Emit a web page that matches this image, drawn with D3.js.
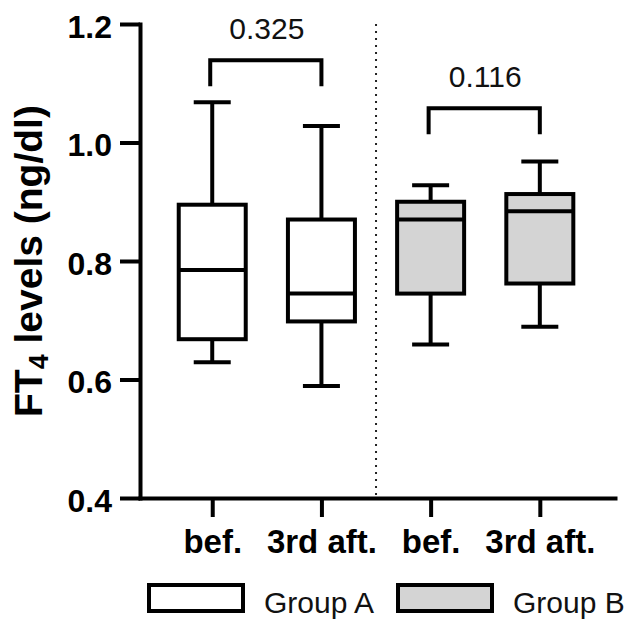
<!DOCTYPE html>
<html>
<head>
<meta charset="utf-8">
<script src="https://cdn.jsdelivr.net/npm/d3@7"></script>
<style>
  html, body { margin: 0; padding: 0; background: #fff; }
  svg { display: block; }
  text { font-family: Arial, "Liberation Sans", Helvetica, sans-serif; }
</style>
</head>
<body>
<svg id="chart" width="631" height="620"></svg>
<script>
// ---- data ----
const categories = ["A-bef", "A-aft", "B-bef", "B-aft"];
const categoryLabels = ["bef.", "3rd aft.", "bef.", "3rd aft."];
const groups = ["Group A", "Group A", "Group B", "Group B"];
const whiskerLow  = [0.629, 0.589, 0.659, 0.689];
const q1          = [0.668, 0.698, 0.745, 0.762];
const median      = [0.785, 0.745, 0.870, 0.884];
const q3          = [0.895, 0.870, 0.900, 0.913];
const whiskerHigh = [1.068, 1.028, 0.928, 0.968];
const yTicks = [0.4, 0.6, 0.8, 1.0, 1.2];
const legendItems = ["Group A", "Group B"];
const comparisons = [
  { from: "A-bef", to: "A-aft", level: 1.139, label: "0.325" },
  { from: "B-bef", to: "B-aft", level: 1.058, label: "0.116" }
];
const dividerBetween = ["A-aft", "B-bef"];

// ---- styles ----
const fillFor = { "Group A": "#ffffff", "Group B": "#d4d4d4" };
const ink = "#000";
const SW = 4;

const svg = d3.select("#chart");

const y = d3.scaleLinear().domain([0.4, 1.2]).range([498, 24]);
const x = d3.scalePoint().domain(categories).range([140, 615]).padding(0.675).align(0.49);

// divider (dotted)
const divX = (x(dividerBetween[0]) + x(dividerBetween[1])) / 2;
svg.append("line")
  .attr("x1", divX).attr("x2", divX)
  .attr("y1", y(1.2)).attr("y2", y(0.4))
  .attr("stroke", "#222").attr("stroke-width", 2)
  .attr("stroke-dasharray", "2,5");

// y axis
const yAxis = svg.append("g").attr("transform", "translate(140,0)")
  .call(d3.axisLeft(y).tickValues(yTicks).tickFormat(d3.format(".1f"))
    .tickSize(20).tickSizeOuter(0).tickPadding(8));
yAxis.select(".domain").attr("stroke", ink).attr("stroke-width", SW).attr("stroke-linecap", "square");
yAxis.selectAll(".tick line").attr("stroke", ink).attr("stroke-width", SW);
yAxis.selectAll(".tick text")
  .attr("font-size", 32).attr("font-weight", "bold").attr("fill", ink)
  .attr("dy", "0.42em");

// x axis
const xAxis = svg.append("g").attr("transform", "translate(0,498)")
  .call(d3.axisBottom(x).tickSize(19).tickSizeOuter(0).tickPadding(13)
    .tickFormat((d, i) => categoryLabels[i]));
xAxis.select(".domain").attr("stroke", ink).attr("stroke-width", SW).attr("stroke-linecap", "square");
xAxis.selectAll(".tick line").attr("stroke", ink).attr("stroke-width", SW);
xAxis.selectAll(".tick text")
  .attr("font-size", 33).attr("font-weight", "bold").attr("fill", ink);

// y title
svg.append("text")
  .attr("transform", "translate(42,417) rotate(-90)")
  .attr("text-anchor", "start")
  .attr("font-size", 39).attr("font-weight", "bold").attr("fill", ink)
  .call(t => {
    t.append("tspan").text("FT");
    t.append("tspan").text("4").attr("font-size", 27).attr("dy", 6);
    t.append("tspan").text(" levels (ng/dl)").attr("dy", -6);
  });

// boxes
const boxW = 67, capW = 37;
const data = categories.map((c, i) => ({
  c, g: groups[i], lo: whiskerLow[i], q1: q1[i], med: median[i], q3: q3[i], hi: whiskerHigh[i]
}));
const box = svg.append("g").selectAll("g").data(data).join("g");
box.append("line").attr("x1", d => x(d.c)).attr("x2", d => x(d.c))
  .attr("y1", d => y(d.hi)).attr("y2", d => y(d.q3))
  .attr("stroke", ink).attr("stroke-width", SW);
box.append("line").attr("x1", d => x(d.c)).attr("x2", d => x(d.c))
  .attr("y1", d => y(d.q1)).attr("y2", d => y(d.lo))
  .attr("stroke", ink).attr("stroke-width", SW);
box.append("line").attr("x1", d => x(d.c) - capW / 2).attr("x2", d => x(d.c) + capW / 2)
  .attr("y1", d => y(d.hi)).attr("y2", d => y(d.hi))
  .attr("stroke", ink).attr("stroke-width", SW);
box.append("line").attr("x1", d => x(d.c) - capW / 2).attr("x2", d => x(d.c) + capW / 2)
  .attr("y1", d => y(d.lo)).attr("y2", d => y(d.lo))
  .attr("stroke", ink).attr("stroke-width", SW);
box.append("rect")
  .attr("x", d => x(d.c) - boxW / 2).attr("width", boxW)
  .attr("y", d => y(d.q3)).attr("height", d => y(d.q1) - y(d.q3))
  .attr("fill", d => fillFor[d.g]).attr("stroke", ink).attr("stroke-width", SW);
box.append("line").attr("x1", d => x(d.c) - boxW / 2).attr("x2", d => x(d.c) + boxW / 2)
  .attr("y1", d => y(d.med)).attr("y2", d => y(d.med))
  .attr("stroke", ink).attr("stroke-width", SW);

// comparison brackets
const drop = 0.044;
const br = svg.append("g").selectAll("g").data(comparisons).join("g");
br.append("path")
  .attr("d", d => {
    const x1 = x(d.from) - 2, x2 = x(d.to), yt = y(d.level), yb = y(d.level - drop);
    return `M${x1},${yb}V${yt}H${x2}V${yb}`;
  })
  .attr("fill", "none").attr("stroke", ink).attr("stroke-width", SW);
br.append("text")
  .attr("x", d => (x(d.from) + x(d.to)) / 2)
  .attr("y", d => y(d.level) - 21)
  .attr("text-anchor", "middle")
  .attr("font-size", 30).attr("fill", "#111")
  .text(d => d.label);

// legend
const legX = [147, 396];
const leg = svg.append("g").selectAll("g").data(legendItems).join("g")
  .attr("transform", (d, i) => `translate(${legX[i]},583)`);
leg.append("rect").attr("x", 2).attr("y", 2).attr("width", 94).attr("height", 26)
  .attr("fill", d => fillFor[d]).attr("stroke", ink).attr("stroke-width", SW);
leg.append("text").attr("x", 117).attr("y", 30)
  .attr("font-size", 30).attr("fill", "#111").text(d => d);
</script>
</body>
</html>
